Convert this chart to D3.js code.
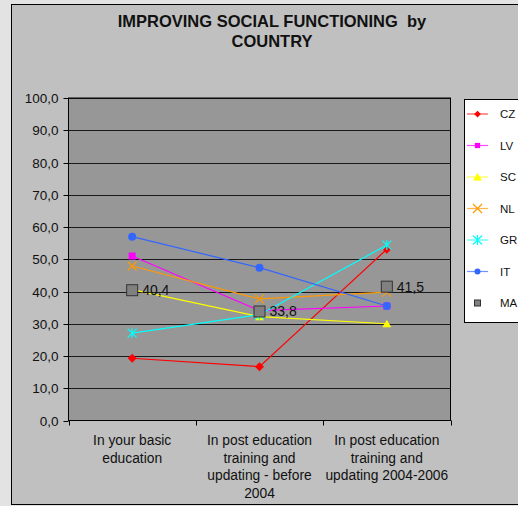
<!DOCTYPE html>
<html><head><meta charset="utf-8">
<script src="https://cdn.jsdelivr.net/npm/d3@7/dist/d3.min.js"></script>
<style>body{margin:0;background:#e3e3e3;}svg{display:block;font-family:"Liberation Sans",Arial,sans-serif;}text{white-space:pre;}</style>
</head><body>
<script>
const categories = [["In your basic","education"],["In post education","training and","updating - before","2004"],["In post education","training and","updating 2004-2006"]];
const seriesNames = ["CZ","LV","SC","NL","GR","IT","MA"];
const CZ = [19.3, 16.7, 53.1];
const LV = [51.0, 34.1, 35.5];
const SC = [40.6, 32.2, 30.0];
const NL = [47.9, 37.7, 39.8];
const GR = [27.1, 32.8, 54.4];
const IT = [57.0, 47.4, 35.5];
const MA = [40.4, 33.8, 41.5];
const yTicks = [0,10,20,30,40,50,60,70,80,90,100];
const titleLines = ["IMPROVING SOCIAL FUNCTIONING  by","COUNTRY"];

const W=518,H=506;
const svg=d3.select("body").append("svg").attr("width",W).attr("height",H);
svg.append("rect").attr("x",0).attr("y",0).attr("width",W).attr("height",H).attr("fill","#e3e3e3");
svg.append("rect").attr("x",11.5).attr("y",4.5).attr("width",520).attr("height",500).attr("fill","#c0c0c0").attr("stroke","#000").attr("stroke-width",1);

const m={l:68.5,r:450.5,t:98,b:420.5};
const x=d3.scaleBand().domain(d3.range(categories.length)).range([m.l,m.r]);
const y=d3.scaleLinear().domain([0,100]).range([m.b,m.t]);

svg.append("rect").attr("x",m.l).attr("y",m.t).attr("width",m.r-m.l).attr("height",m.b-m.t).attr("fill","#979797");
// gridlines
svg.append("g").selectAll("line").data(yTicks.slice(1)).join("line")
 .attr("x1",m.l).attr("x2",m.r).attr("y1",d=>Math.round(y(d))+0.5).attr("y2",d=>Math.round(y(d))+0.5)
 .attr("stroke","#1a1a1a").attr("stroke-width",1);
svg.append("rect").attr("x",m.l).attr("y",m.t).attr("width",m.r-m.l).attr("height",m.b-m.t).attr("fill","none").attr("stroke","#000").attr("stroke-width",1);

// y axis
const ya=svg.append("g").attr("transform",`translate(${m.l},0)`)
 .call(d3.axisLeft(y).tickValues(yTicks).tickSize(5).tickPadding(5).tickFormat(d=>d3.format(".1f")(d).replace(".",",")));
ya.select(".domain").remove();
ya.selectAll("line").attr("stroke","#000");
ya.selectAll("text").attr("font-size","13.5px").attr("fill","#111").attr("font-family","Liberation Sans, Arial, sans-serif");
ya.selectAll(".tick").attr("transform",d=>`translate(0,${Math.round(y(d))+0.5})`);

// x axis ticks
const xa=svg.append("g").attr("transform",`translate(0,${m.b})`);
xa.selectAll("line").data(d3.range(categories.length+1)).join("line")
 .attr("x1",i=>Math.round(m.l+i*x.bandwidth())+0.5).attr("x2",i=>Math.round(m.l+i*x.bandwidth())+0.5)
 .attr("y1",0).attr("y2",5).attr("stroke","#000");
const xl=svg.append("g");
categories.forEach((lines,i)=>{
  const t=xl.append("text").attr("x",x(i)+x.bandwidth()/2).attr("y",445).attr("text-anchor","middle")
   .attr("font-size","13.8px").attr("fill","#111");
  lines.forEach((s,j)=>t.append("tspan").attr("x",x(i)+x.bandwidth()/2).attr("dy",j?17.5:0).text(s));
});

// title
const tt=svg.append("text").attr("x",272).attr("y",27).attr("text-anchor","middle").attr("font-weight","bold").attr("font-size","16.5px").attr("fill","#111");
titleLines.forEach((s,j)=>tt.append("tspan").attr("x",272).attr("dy",j?20:0).text(s));

const colors={CZ:"#ff0000",LV:"#ff00ff",SC:"#ffff00",NL:"#ff9900",GR:"#00ffff",IT:"#3366ff",MA:"#808080"};
const dataMap={CZ,LV,SC,NL,GR,IT,MA};
const cx=i=>x(i)+x.bandwidth()/2;

function marker(g,name,px,py){
  const c=colors[name];
  if(name==="CZ") g.append("path").attr("d",`M${px},${py-4.5}L${px+4.5},${py}L${px},${py+4.5}L${px-4.5},${py}Z`).attr("fill",c);
  else if(name==="LV") g.append("rect").attr("x",px-3.5).attr("y",py-3.5).attr("width",7).attr("height",7).attr("fill",c);
  else if(name==="SC") g.append("path").attr("d",`M${px},${py-4}L${px+4.5},${py+3.5}L${px-4.5},${py+3.5}Z`).attr("fill",c);
  else if(name==="NL") g.append("path").attr("d",`M${px-4.5},${py-4.5}L${px+4.5},${py+4.5}M${px+4.5},${py-4.5}L${px-4.5},${py+4.5}`).attr("stroke",c).attr("stroke-width",1.2);
  else if(name==="GR") g.append("path").attr("d",`M${px-4.5},${py-4.5}L${px+4.5},${py+4.5}M${px+4.5},${py-4.5}L${px-4.5},${py+4.5}M${px},${py-5}L${px},${py+5}`).attr("stroke",c).attr("stroke-width",1.2);
  else if(name==="IT") g.append("circle").attr("cx",px).attr("cy",py).attr("r",4).attr("fill",c);
  else if(name==="MA") g.append("rect").attr("x",px-5.5).attr("y",py-5.5).attr("width",11).attr("height",11).attr("fill",c).attr("stroke","#333").attr("stroke-width",1);
}
const line=d3.line().x((d,i)=>cx(i)).y(d=>y(d));
const plot=svg.append("g");
seriesNames.forEach(n=>{
  if(n!=="MA") plot.append("path").datum(dataMap[n]).attr("d",line).attr("fill","none").attr("stroke",colors[n]).attr("stroke-width",1.2);
});
seriesNames.forEach(n=>{
  dataMap[n].forEach((v,i)=>marker(plot,n,cx(i),y(v)));
});
MA.forEach((v,i)=>{
  plot.append("text").attr("x",cx(i)+10).attr("y",y(v)+5).attr("font-size","14px").attr("fill","#111").text(d3.format(".1f")(v).replace(".",","));
});

// legend
const lg=svg.append("g");
lg.append("rect").attr("x",464.5).attr("y",99.5).attr("width",70).attr("height",223).attr("fill","#fff").attr("stroke","#000");
seriesNames.forEach((n,i)=>{
  const ly=114+i*31.5;
  if(n!=="MA") lg.append("line").attr("x1",467).attr("x2",488).attr("y1",ly).attr("y2",ly).attr("stroke",colors[n]).attr("stroke-width",1.2).attr("opacity",0.7);
  const mg=lg.append("g");
  if(n==="MA") mg.append("rect").attr("x",477.5-3).attr("y",ly-3).attr("width",6).attr("height",6).attr("fill",colors[n]).attr("stroke","#333");
  else marker(mg,n,477.5,ly);
  if(n==="CZ"||n==="LV"||n==="IT") mg.attr("transform",`translate(${477.5*0.25},${ly*0.25}) scale(0.75)`);
  lg.append("text").attr("x",500).attr("y",ly+4).attr("font-size","11.5px").attr("fill","#111").text(n);
});
</script>
</body></html>
